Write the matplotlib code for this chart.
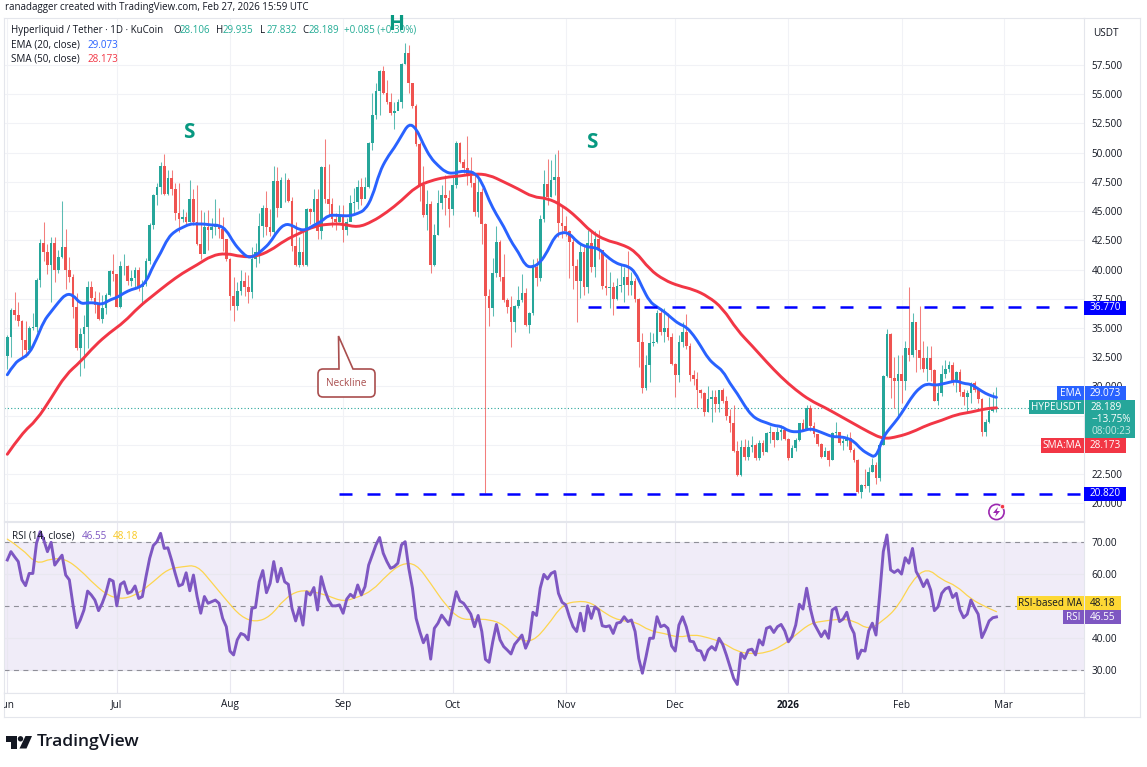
import matplotlib
matplotlib.use("Agg")
import matplotlib.dates as mdates
import matplotlib.pyplot as plt
import pandas as pd
from matplotlib.patches import Circle, PathPatch, Polygon, Rectangle
from matplotlib.path import Path

plt.rcParams["font.family"] = ["Open Sans", "DejaVu Sans"]

# daily candles
closes = [
    34.2, 36.55, 36.1, 35.6, 34.0, 33.1, 35.0, 35.1, 39.1, 42.3,
    41.5, 40.4, 42.3, 40.0, 41.1, 41.9, 40.0, 39.4, 36.8, 33.3,
    34.5, 35.1, 38.5, 37.6, 37.0, 35.8, 36.7, 37.8, 39.9, 39.6,
    36.8, 40.3, 40.3, 39.0, 39.3, 40.0, 38.5, 38.8, 40.7, 43.8,
    46.4, 47.1, 48.9, 46.5, 47.8, 46.9, 44.8, 44.3, 44.5, 44.1,
    46.0, 44.1, 42.2, 41.3, 43.6, 43.4, 43.6, 43.8, 43.5, 42.6,
    40.9, 37.7, 36.9, 38.2, 39.0, 38.5, 38.1, 40.9, 41.5, 43.7,
    45.3, 43.6, 43.2, 47.6, 45.3, 47.7, 47.7, 45.9, 42.0, 40.4,
    41.5, 40.4, 45.2, 44.9, 46.0, 43.3, 48.8, 46.0, 45.6, 44.3,
    44.1, 44.6, 43.4, 44.1, 45.7, 45.8, 47.1, 46.0, 47.1, 50.8,
    53.2, 55.3, 57.0, 55.1, 54.3, 53.4, 53.6, 54.3, 57.6, 58.5,
    56.0, 54.0, 50.7, 47.2, 44.7, 45.6, 40.4, 43.0, 45.7, 46.4,
    46.1, 45.2, 47.2, 50.8, 49.2, 48.7, 48.0, 47.4, 44.9, 46.6,
    43.9, 37.7, 36.7, 39.7, 42.4, 39.4, 37.4, 36.8, 35.5, 36.9,
    37.4, 38.0, 35.3, 36.3, 40.2, 39.3, 44.3, 47.3, 46.2, 47.7,
    47.9, 44.0, 43.7, 43.3, 42.4, 40.3, 39.0, 41.5, 38.5, 42.3,
    40.2, 42.6, 41.7, 38.6, 38.4, 38.5, 37.5, 38.6, 38.7, 39.4,
    38.7, 39.0, 37.5, 33.8, 29.9, 31.8, 33.7, 33.8, 36.3, 34.7,
    35.0, 34.2, 31.9, 31.0, 33.8, 34.7, 33.5, 31.0, 30.6, 29.7,
    29.4, 27.8, 28.9, 29.1, 28.5, 29.7, 28.8, 27.5, 26.9, 24.5,
    22.4, 24.8, 24.0, 24.8, 25.0, 23.9, 25.2, 24.4, 26.0, 26.1,
    25.4, 26.1, 26.3, 25.5, 23.9, 24.7, 25.4, 26.9, 26.3, 28.2,
    26.6, 25.9, 25.1, 24.0, 24.5, 23.7, 26.0, 26.1, 25.2, 25.3,
    25.6, 24.6, 23.7, 21.0, 21.6, 21.5, 22.7, 23.3, 22.2, 25.0,
    30.9, 34.5, 30.7, 30.5, 31.1, 30.5, 33.3, 32.7, 35.5, 33.1,
    32.4, 31.5, 32.4, 31.4, 28.8, 29.4, 31.1, 31.5, 31.8, 30.5,
    31.2, 29.5, 29.1, 29.4, 30.3, 29.7, 28.9, 26.1, 27.0, 27.9, 28.106, 28.189,
]
highs = [
    34.4, 36.7, 38.1, 37.2, 35.7, 35.6, 35.2, 36.3, 39.3, 42.6,
    44.1, 42.2, 42.8, 42.8, 41.7, 45.9, 43.5, 41.1, 39.6, 38.0,
    35.0, 36.1, 39.0, 39.0, 38.2, 38.1, 37.8, 38.0, 40.0, 41.3,
    39.5, 40.7, 41.3, 40.4, 40.0, 40.2, 40.2, 39.1, 41.0, 44.0,
    46.5, 47.4, 49.2, 49.9, 48.5, 48.5, 47.4, 47.4, 45.2, 44.9,
    47.7, 46.9, 47.2, 45.1, 44.9, 45.1, 44.4, 46.0, 45.3, 44.5,
    42.3, 41.0, 39.4, 38.9, 40.0, 39.8, 39.5, 41.9, 42.3, 44.8,
    45.5, 46.7, 45.2, 48.9, 48.8, 47.9, 48.3, 47.8, 46.2, 44.1,
    42.8, 43.2, 45.3, 45.3, 46.9, 46.9, 48.9, 51.2, 49.0, 46.1,
    44.8, 45.5, 45.5, 44.4, 46.4, 47.0, 47.7, 47.8, 47.9, 50.9,
    55.1, 56.0, 57.1, 57.4, 56.2, 55.1, 54.3, 54.6, 57.7, 59.4,
    59.2, 54.5, 54.2, 50.9, 48.9, 46.8, 45.9, 43.9, 46.8, 47.2,
    48.1, 46.8, 48.0, 51.0, 50.9, 49.5, 51.4, 49.6, 48.3, 48.1,
    47.0, 44.0, 38.3, 41.0, 43.7, 42.5, 41.3, 37.6, 37.7, 37.0,
    38.6, 39.6, 38.4, 36.4, 40.9, 41.0, 44.7, 48.5, 49.5, 49.4,
    49.9, 50.2, 45.5, 44.6, 43.4, 42.6, 40.9, 42.3, 42.1, 43.4,
    43.3, 43.3, 43.4, 41.7, 40.9, 39.8, 38.9, 39.3, 40.5, 40.2,
    41.6, 39.8, 39.3, 37.6, 34.6, 32.7, 34.7, 34.6, 36.5, 36.7,
    36.7, 36.3, 34.6, 32.0, 34.4, 35.5, 36.2, 33.7, 31.4, 31.2,
    29.8, 29.5, 30.0, 29.7, 29.7, 29.7, 29.9, 29.2, 28.1, 28.4,
    25.3, 25.4, 25.5, 25.4, 25.8, 25.2, 25.4, 25.4, 26.1, 26.6,
    26.1, 26.5, 26.7, 26.3, 25.6, 25.0, 25.6, 26.9, 27.2, 28.4,
    28.4, 27.0, 25.8, 25.2, 24.8, 24.6, 26.1, 27.0, 26.1, 25.6,
    25.9, 26.1, 24.7, 23.8, 21.7, 22.9, 23.1, 23.9, 23.5, 25.1,
    31.0, 34.9, 34.6, 32.5, 32.7, 32.7, 33.9, 38.5, 36.3, 35.5,
    36.9, 33.9, 33.5, 33.5, 31.5, 30.1, 31.8, 32.3, 32.2, 32.1,
    31.3, 31.5, 29.8, 29.7, 30.4, 30.5, 29.8, 29.0, 27.2, 29.1, 29.5, 29.935,
]
lows = [
    31.5, 32.5, 35.7, 35.2, 32.5, 32.5, 33.0, 34.8, 34.7, 38.5,
    40.7, 39.6, 37.2, 38.9, 39.7, 41.0, 38.3, 38.9, 35.9, 33.1,
    30.9, 31.6, 33.3, 37.4, 36.3, 35.7, 35.4, 36.2, 37.7, 39.0,
    36.8, 36.7, 39.5, 38.7, 38.6, 38.3, 38.2, 37.0, 38.6, 40.5,
    43.5, 45.5, 46.5, 46.4, 46.4, 46.4, 44.2, 43.2, 44.1, 43.8,
    44.1, 43.8, 42.1, 40.9, 42.0, 41.7, 42.7, 43.0, 42.7, 41.6,
    40.7, 36.5, 35.6, 36.5, 37.8, 37.7, 37.1, 37.6, 40.2, 40.6,
    42.8, 43.0, 42.9, 43.0, 44.5, 45.5, 45.8, 45.8, 41.6, 40.3,
    40.2, 40.3, 40.3, 43.9, 44.0, 42.6, 42.6, 45.7, 44.7, 43.6,
    43.4, 44.1, 42.4, 43.0, 44.5, 44.8, 45.2, 45.5, 46.2, 47.0,
    50.2, 52.9, 53.2, 55.0, 54.2, 53.2, 52.0, 53.8, 53.8, 57.6,
    55.1, 53.8, 50.6, 45.9, 44.5, 43.4, 39.7, 40.3, 43.0, 45.2,
    44.7, 43.6, 44.7, 47.0, 49.1, 48.3, 47.2, 47.1, 44.6, 44.5,
    42.2, 20.85, 35.2, 36.0, 39.4, 39.0, 37.2, 36.3, 33.4, 34.7,
    36.7, 37.2, 35.2, 34.6, 36.1, 38.6, 39.0, 44.1, 45.5, 46.2,
    46.4, 42.8, 42.7, 42.9, 39.3, 38.3, 35.5, 37.6, 37.8, 38.0,
    39.8, 39.4, 40.9, 38.3, 37.8, 36.7, 36.1, 37.4, 38.1, 37.2,
    37.8, 37.8, 37.2, 31.7, 29.4, 29.7, 30.4, 33.5, 33.7, 34.4,
    33.8, 34.0, 31.8, 29.1, 30.4, 33.4, 33.2, 30.5, 30.1, 28.2,
    29.0, 27.5, 27.8, 27.0, 27.8, 27.8, 28.6, 27.1, 26.1, 24.4,
    22.3, 22.3, 23.7, 23.7, 24.4, 23.7, 23.7, 24.1, 24.4, 25.2,
    24.8, 25.4, 25.4, 25.4, 23.7, 24.2, 24.5, 25.3, 26.2, 26.4,
    26.2, 25.7, 24.9, 23.9, 24.1, 23.2, 23.7, 25.7, 25.0, 24.6,
    24.9, 24.4, 23.5, 20.9, 20.5, 21.3, 21.0, 22.7, 21.7, 21.9,
    25.0, 30.8, 29.0, 28.2, 27.4, 28.6, 29.7, 32.2, 32.5, 31.2,
    31.5, 31.2, 30.5, 30.5, 28.8, 28.4, 29.2, 30.7, 31.2, 30.1,
    29.5, 29.2, 28.4, 27.8, 28.6, 29.5, 28.6, 25.8, 25.8, 26.9, 27.8, 27.832,
]
first_open = 32.6

# EMA read every second day plus the last day
ema20 = [
    31.0, 32.0, 32.4, 32.8, 34.05, 35.6, 36.4, 37.2, 37.9, 37.85, 37.07, 37.16, 37.16,
    37.0, 37.4, 37.6, 38.0, 38.3, 38.45, 38.9, 40.35, 41.4, 42.7, 43.3, 43.6, 43.9,
    43.9, 43.9, 43.8, 43.8, 43.4, 42.3, 41.55, 41.0, 41.2, 41.7, 42.3, 43.3, 43.9,
    43.8, 43.4, 43.4, 43.8, 44.1, 44.65, 44.65, 44.6, 44.6, 44.8, 45.1, 46.2,
    48.35, 49.55, 50.4, 51.45, 52.5, 52.1, 50.7, 49.55, 48.9, 48.35, 48.2, 48.4, 48.4,
    48.3, 47.5, 45.9, 44.7, 43.7, 42.4, 41.5, 40.3, 40.2, 40.6, 41.55, 42.85, 43.2,
    43.1, 42.4, 42.0, 41.9, 41.8, 41.2, 40.7, 40.4, 40.3, 39.8,
    38.45, 37.25, 36.8, 36.4, 35.85, 35.35, 35.1, 34.4, 33.45, 32.4, 31.8, 31.35, 30.25,
    29.4, 28.35, 27.5, 27.1, 26.9, 26.65, 26.6, 26.2, 26.1, 26.2, 26.4, 26.2, 25.95,
    25.7, 25.7, 25.6, 25.3, 24.6, 24.2, 23.9, 25.7, 26.5, 27.25, 28.2, 29.2, 29.9,
    30.25, 30.1, 30.2, 30.35, 30.5, 30.25, 30.2, 29.8, 29.4, 29.15, 29.073,
]
# SMA and RSI MA read every fourth day plus the last day
sma50 = [
    24.2, 26.0, 27.1, 29.0, 31.0, 32.1, 33.5, 34.6, 35.5, 36.8, 37.8, 38.8, 39.7,
    40.4, 41.2, 41.4, 41.1, 41.1, 41.6, 42.5, 43.1, 43.7, 43.9, 43.9, 43.6, 44.1,
    44.9, 45.9, 47.1, 47.6, 47.9, 48.0, 48.2, 48.1, 47.5, 46.9, 46.2, 46.1, 45.5,
    44.5, 43.2, 42.5, 42.2, 41.6, 40.0, 39.1, 38.6, 38.3, 37.7, 36.7, 34.8, 33.5,
    32.1, 30.8, 29.7, 28.8, 28.2, 27.5, 26.8, 26.1, 25.5, 25.7, 26.1, 26.7, 27.1,
    27.6, 27.8, 28.1, 28.173,
]

rsi = [
    64.3, 66.9, 65.3, 63.8, 58.1, 56.3, 60.1, 60.1, 69.5, 73.1,
    70.5, 66.9, 69.8, 62.7, 64.3, 65.8, 59.6, 58.1, 50.3, 43.2,
    45.6, 48.7, 54.6, 53.4, 51.8, 48.5, 50.8, 53.9, 58.3, 57.7,
    50.0, 56.7, 57.5, 53.9, 54.4, 56.2, 52.3, 52.9, 59.1, 64.8,
    68.8, 70.0, 72.6, 67.9, 68.1, 64.3, 60.1, 56.2, 56.7, 60.3,
    54.7, 59.6, 52.9, 47.7, 52.9, 50.8, 51.3, 51.8, 50.8, 46.1,
    43.5, 35.9, 34.7, 39.4, 41.4, 40.9, 39.4, 49.2, 49.5, 57.5,
    61.0, 54.1, 57.0, 63.8, 57.5, 61.7, 57.5, 56.7, 49.2, 45.3,
    49.4, 44.0, 54.4, 53.4, 55.7, 48.7, 59.1, 54.9, 51.8, 50.0,
    50.0, 50.3, 47.7, 52.1, 53.6, 52.6, 56.5, 53.4, 56.0, 62.7,
    65.8, 69.0, 71.3, 66.4, 63.8, 61.7, 62.2, 63.3, 69.0, 70.0,
    61.7, 55.5, 46.1, 42.0, 38.5, 40.9, 33.4, 43.0, 44.6, 47.1,
    45.6, 44.0, 49.2, 54.4, 51.5, 50.8, 49.2, 47.4, 43.5, 47.0,
    42.0, 33.3, 32.4, 38.8, 44.2, 39.4, 37.3, 36.2, 35.0, 38.0,
    39.4, 40.9, 36.8, 39.4, 48.0, 47.0, 55.5, 59.8, 58.4, 60.1,
    60.7, 53.9, 51.1, 50.3, 46.6, 43.5, 42.0, 47.7, 42.2, 50.0,
    46.1, 49.7, 48.7, 43.8, 43.5, 43.8, 41.4, 44.6, 44.9, 46.6,
    45.1, 45.6, 42.0, 33.6, 29.0, 34.2, 39.9, 39.9, 46.6, 43.5,
    44.0, 43.0, 37.5, 35.9, 44.0, 46.6, 43.5, 39.0, 38.8, 36.2,
    35.9, 33.1, 36.2, 37.3, 36.2, 39.9, 38.0, 34.7, 31.0, 27.4,
    25.5, 35.2, 33.6, 36.2, 36.5, 34.7, 39.4, 37.8, 43.0, 43.5,
    41.7, 43.5, 44.2, 42.2, 38.8, 40.4, 44.0, 50.5, 49.0, 55.5,
    49.2, 44.6, 42.5, 40.4, 42.2, 39.9, 48.7, 49.5, 45.1, 45.9,
    48.0, 43.7, 41.4, 33.6, 36.2, 35.9, 42.2, 44.6, 40.9, 53.4,
    66.9, 72.1, 61.2, 60.4, 61.2, 59.9, 65.0, 63.3, 67.9, 60.7,
    58.6, 56.0, 58.1, 54.9, 48.5, 49.7, 53.9, 55.3, 55.8, 52.6,
    53.9, 48.7, 46.3, 47.4, 51.8, 49.4, 47.4, 40.1, 42.5, 45.3, 46.3, 46.55,
]
rsi_ma = [
    70.8, 67.9, 62.9, 64.8, 64.6, 61.2, 56.5, 52.9, 52.1, 53.9, 57.5, 61.5, 62.2,
    62.7, 57.3, 51.8, 46.6, 44.9, 46.6, 52.3, 54.9, 54.4, 53.1, 51.3, 52.7, 54.7,
    59.6, 63.2, 63.2, 57.0, 50.3, 45.8, 45.8, 45.8, 44.2, 39.4, 38.8, 43.8, 50.3,
    51.5, 51.1, 47.4, 45.3, 45.1, 42.2, 41.4, 40.1, 41.1, 40.1, 38.6, 35.7, 35.0,
    35.4, 37.3, 40.9, 44.6, 45.3, 45.9, 45.4, 42.5, 45.4, 49.7, 58.1, 61.9, 58.1,
    56.3, 52.1, 49.7, 48.18,
]

price_ticks = [20, 22.5, 25, 27.5, 30, 32.5, 35, 37.5, 40, 42.5, 45, 47.5, 50, 52.5, 55, 57.5]
rsi_ticks = [30, 40, 60, 70]
month_starts = ["2025-06-01", "2025-07-01", "2025-08-01", "2025-09-01", "2025-10-01",
                "2025-11-01", "2025-12-01", "2026-01-01", "2026-02-01", "2026-03-01"]
month_labels = ["Jun", "Jul", "Aug", "Sep", "Oct", "Nov", "Dec", "2026", "Feb", "Mar"]

resistance = 36.77
support = 20.82

UP = "#26a69a"
DOWN = "#ef5350"
BLUE = "#2962ff"
RED = "#f23645"
PURPLE = "#7e57c2"
TEXT = "#131722"
GRID = "#f1f2f6"
FRAME = "#e4e6ec"
W, H = 1147, 767

dates = pd.date_range("2025-06-01", periods=len(closes))
x = mdates.date2num(dates)
opens = [first_open] + closes[:-1]
ema_x = list(x[::2]) + [x[-1]]
ma_x = list(x[::4]) + [x[-1]]
month_x = mdates.date2num(pd.to_datetime(month_starts))
x_left = x[0] - 3.3 / 3.65
x_right = x[0] + 1076.7 / 3.65


def px_axes(x0, y0, x1, y1, **kw):
    return fig.add_axes([x0 / W, 1 - y1 / H, (x1 - x0) / W, (y1 - y0) / H], **kw)


def smooth_line(target, xs, ys, **kw):
    # rounded line like the chart's moving averages, corners as quadratic curves
    verts = [(xs[0], ys[0])]
    codes = [Path.MOVETO]
    for i in range(1, len(xs) - 1):
        verts += [(xs[i], ys[i]), ((xs[i] + xs[i + 1]) / 2, (ys[i] + ys[i + 1]) / 2)]
        codes += [Path.CURVE3, Path.CURVE3]
    verts.append((xs[-1], ys[-1]))
    codes.append(Path.LINETO)
    target.add_patch(PathPatch(Path(verts, codes), fill=False, capstyle="round", **kw))


fig = plt.figure(figsize=(W / 100, H / 100), dpi=100, facecolor="white")

# price pane
ax = px_axes(4, 18, 1084, 521)
ax.set_xlim(x_left, x_right)
ax.set_ylim(57.5 - (521 - 65) / 11.69, 57.5 + (65 - 18) / 11.69)
for i in range(len(closes)):
    color = UP if closes[i] >= opens[i] else DOWN
    ax.vlines(x[i], lows[i], highs[i], color=color, lw=0.75, alpha=0.75, zorder=2)
    ax.bar(x[i], abs(closes[i] - opens[i]), bottom=min(opens[i], closes[i]), width=0.72,
           color=color, lw=0, zorder=3)
ax.axhline(closes[-1], color=UP, lw=0.8, ls=(0, (1, 2)), zorder=1)
smooth_line(ax, ma_x, sma50, edgecolor=RED, lw=2.1, zorder=4)
smooth_line(ax, ema_x, ema20, edgecolor=BLUE, lw=2.1, zorder=5)
ax.hlines(resistance, x[159], x_right, color="#0000ff", lw=1.8, ls=(0, (5.2, 6)), zorder=6)
ax.hlines(support, x[91], x_right, color="#0000ff", lw=1.8, ls=(0, (5.2, 6)), zorder=6)
ax.set_yticks(price_ticks)
ax.set_yticklabels([f"{t:.3f}" for t in price_ticks])
ax.yaxis.tick_right()
ax.set_xticks(month_x)
ax.tick_params(axis="x", length=0, labelbottom=False)
ax.tick_params(axis="y", length=0, labelsize=7.2, labelcolor=TEXT, pad=5.5)
ax.grid(color=GRID, lw=0.8)
ax.set_axisbelow(True)
for s in ax.spines.values():
    s.set_color(FRAME)
    s.set_linewidth(0.8)

# RSI pane
ax_rsi = px_axes(4, 522, 1084, 693)
ax_rsi.set_xlim(x_left, x_right)
ax_rsi.set_ylim(30 - 23 / 3.21, 70 + 19.7 / 3.21)
ax_rsi.axhspan(30, 70, color=PURPLE, alpha=0.11, lw=0, zorder=0)
for level in (30, 50, 70):
    ax_rsi.axhline(level, color="#8f8f98", lw=0.8, ls=(0, (4.5, 4)), zorder=1)
smooth_line(ax_rsi, ma_x, rsi_ma, edgecolor="#fdd54f", lw=0.9, zorder=3)
ax_rsi.plot(x, rsi, color=PURPLE, lw=2.1, solid_joinstyle="round", zorder=4)
ax_rsi.set_yticks(rsi_ticks)
ax_rsi.set_yticklabels([f"{t:.2f}" for t in rsi_ticks])
ax_rsi.yaxis.tick_right()
ax_rsi.set_xticks(month_x)
ax_rsi.tick_params(axis="x", length=0, labelbottom=False)
ax_rsi.tick_params(axis="y", length=0, labelsize=7.2, labelcolor=TEXT, pad=5.5)
ax_rsi.grid(color="#e9e8f0", lw=0.8)
ax_rsi.set_axisbelow(True)
for s in ax_rsi.spines.values():
    s.set_color(FRAME)
    s.set_linewidth(0.8)

# time axis
ax_time = px_axes(4, 693, 1084, 717)
ax_time.set_xlim(x_left, x_right)
ax_time.set_ylim(0, 1)
ax_time.set_xticks([])
ax_time.set_yticks([])
for s in ax_time.spines.values():
    s.set_color(FRAME)
    s.set_linewidth(0.8)
for pos, label in zip(month_x, month_labels):
    ax_time.text(pos, 0.5, label, ha="center", va="center", fontsize=7.2, color=TEXT,
                 fontweight="bold" if label == "2026" else "normal", clip_on=True)

# overlay in pixel coordinates for the TradingView furniture
ov = fig.add_axes([0, 0, 1, 1], zorder=10)
ov.set_xlim(0, W)
ov.set_ylim(H, 0)
ov.axis("off")
ov.patch.set_alpha(0)


def put(px, py, s, color=TEXT, size=7.2, ha="left", **kw):
    ov.text(px, py, s, color=color, fontsize=size, ha=ha, va="center", **kw)


def box(x0, y0, x1, y1, color):
    ov.add_patch(Rectangle((x0, y0), x1 - x0, y1 - y0, facecolor=color, lw=0))


ov.plot([1139.5, 1139.5], [18, 717], color=FRAME, lw=0.8)
ov.plot([1084, 1139.5], [18, 18], color=FRAME, lw=0.8)
ov.plot([1084, 1139.5], [717, 717], color=FRAME, lw=0.8)

put(5, 7.5, "ranadagger created with TradingView.com, Feb 27, 2026 15:59 UTC", size=7.0)
put(11, 30.5, "Hyperliquid / Tether · 1D · KuCoin", size=7.05)
teal = "#22ab94"
for px, label, value in [(173, "O", "28.106"), (216, "H", "29.935"), (260, "L", "27.832"), (302, "C", "28.189")]:
    put(px, 30.5, label, size=7.05)
    put(px + 7, 30.5, value, color=teal, size=7.05)
put(344, 30.5, "+0.085 (+0.30%)", color=teal, size=7.05)
put(11, 45, "EMA (20, close)", size=7.1)
put(87, 45, "29.073", color=BLUE, size=7.1)
put(11, 59, "SMA (50, close)", size=7.1)
put(87, 59, "28.173", color=RED, size=7.1)
put(12, 536.5, "RSI (14, close)", size=7.1)
put(82, 536.5, "46.55", color=PURPLE, size=7.1)
put(113, 536.5, "48.18", color="#f9c81e", size=7.1)

put(189, 132, "S", color="#089981", size=15, ha="center", fontweight="bold")
put(396, 24, "H", color="#089981", size=15, ha="center", fontweight="bold")
put(592, 142, "S", color="#089981", size=15, ha="center", fontweight="bold")

# neckline callout
cx0, cy0, cx1, cy1, r = 318, 369, 375, 397, 5
callout = Path(
    [(cx0 + r, cy0), (339, cy0), (338.5, 336), (353, cy0), (cx1 - r, cy0), (cx1, cy0), (cx1, cy0 + r),
     (cx1, cy1 - r), (cx1, cy1), (cx1 - r, cy1), (cx0 + r, cy1), (cx0, cy1), (cx0, cy1 - r),
     (cx0, cy0 + r), (cx0, cy0), (cx0 + r, cy0), (cx0 + r, cy0)],
    [Path.MOVETO, Path.LINETO, Path.LINETO, Path.LINETO, Path.LINETO, Path.CURVE3, Path.CURVE3,
     Path.LINETO, Path.CURVE3, Path.CURVE3, Path.LINETO, Path.CURVE3, Path.CURVE3,
     Path.LINETO, Path.CURVE3, Path.CURVE3, Path.CLOSEPOLY],
)
ov.add_patch(PathPatch(callout, facecolor="white", edgecolor="#a94e4e", lw=1.2))
put(346.5, 383, "Neckline", color="#a94e4e", size=7.2, ha="center")

# price axis labels
box(1084, 300.5, 1126, 314.5, "#0000ff")
put(1105, 307.5, "36.770", color="white", ha="center")
box(1084, 486.5, 1126, 500.5, "#0000ff")
put(1105, 493.5, "20.820", color="white", ha="center")
box(1057, 386, 1084, 400, BLUE)
put(1070.5, 393, "EMA", color="white", ha="center")
box(1084.5, 386, 1126, 400, BLUE)
put(1105, 393, "29.073", color="white", ha="center")
box(1029, 400, 1084, 414, UP)
put(1056.5, 407, "HYPEUSDT", color="white", ha="center")
box(1084.5, 400, 1135, 438, UP)
put(1091, 407, "28.189", color="white")
put(1091, 419, "\u221213.75%", color="white")
put(1091, 431, "08:00:23", color="#c4e8e3")
box(1041, 438, 1084, 453, RED)
put(1062.5, 445.5, "SMA:MA", color="white", ha="center")
box(1084.5, 438, 1126, 453, RED)
put(1105, 445.5, "28.173", color="white", ha="center")

# RSI axis labels
box(1017, 596, 1084, 610, "#fdd835")
put(1050.5, 603, "RSI-based MA", ha="center")
box(1084.5, 596, 1121, 610, "#fdd835")
put(1103, 603, "48.18", ha="center")
box(1063, 610, 1084, 624, PURPLE)
put(1073.5, 617, "RSI", color="white", ha="center")
box(1084.5, 610, 1121, 624, PURPLE)
put(1103, 617, "46.55", color="white", ha="center")

put(1093, 33, "USDT", size=7.2)

# flash icon
ov.add_patch(Circle((996.5, 512), 7.6, facecolor="white", edgecolor="#9c27b0", lw=1.2))
ov.add_patch(Polygon([(998, 507), (993, 513), (996.3, 513), (995, 517), (1000, 511), (996.8, 511)],
                     facecolor="#9c27b0", lw=0))
ov.add_patch(Circle((1002.5, 506.7), 2.2, facecolor="#f23645", edgecolor="white", lw=0.5))

# TradingView logo
ov.add_patch(Polygon([(6, 736), (16.5, 736), (16.5, 748.5), (11, 748.5), (11, 741.5), (6, 741.5)],
                     facecolor=TEXT, lw=0))
ov.add_patch(Circle((20.5, 738.8), 2.7, facecolor=TEXT, lw=0))
ov.add_patch(Polygon([(25.5, 736), (32, 736), (26.5, 748.5), (19.5, 748.5)], facecolor=TEXT, lw=0))
put(37, 742.5, "TradingView", size=12.6, fontweight="semibold")

fig.savefig("out.png", dpi=100, facecolor="white")
plt.close(fig)
